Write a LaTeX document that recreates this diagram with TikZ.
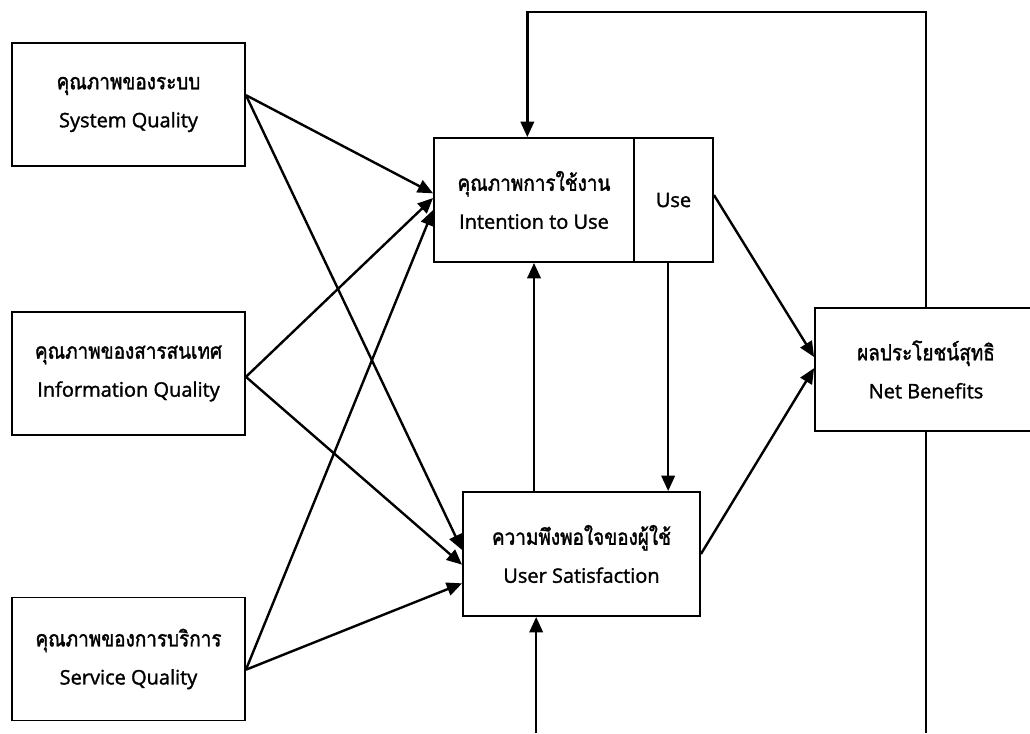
\documentclass[tikz,border=0pt]{standalone}
\usepackage{fontspec}
\setmainfont{Open Sans}[FakeBold=1.5]
\newfontfamily\thaifont[Script=Thai,FakeBold=1.5,FakeStretch=0.86]{Loma}
\newcommand\thline[1]{{\thaifont\fontsize{16.5}{28.5}\selectfont #1}}
\usetikzlibrary{arrows.meta}

\begin{document}
\begin{tikzpicture}[x=0.75pt, y=-0.75pt,
  box/.style={draw, line width=1.4pt, align=center, inner sep=0pt, font=\fontsize{15}{28.5}\selectfont},
  link/.style={line width=1.8pt, -{Triangle[length=11.5pt,width=10pt]}},
  wire/.style={line width=1.8pt}]
\clip (0,0) rectangle (1030,733);
\coordinate (fb) at (0,12);
\coordinate (bot) at (0,733);

\node [box, minimum width=174.75pt, minimum height=92.25pt] (sysq) at (128.5,104.5) {\thline{คุณภาพของระบบ}\\System Quality};
\node [box, minimum width=174.75pt, minimum height=92.25pt] (infoq) at (128.5,373.5) {\thline{คุณภาพของสารสนเทศ}\\Information Quality};
\node [box, minimum width=174.75pt, minimum height=92.25pt] (servq) at (128.5,659) {\thline{คุณภาพของการบริการ}\\Service Quality};
\node [box, minimum width=150pt, minimum height=93pt] (intent) at (534,200) {\thline{คุณภาพการใช้งาน}\\Intention to Use};
\node [box, minimum width=59.25pt, minimum height=93pt] (use) at (673.5,200) {Use};
\node [box, minimum width=177.75pt, minimum height=93pt] (usat) at (581.5,554) {\thline{ความพึงพอใจของผู้ใช้}\\User Satisfaction};
\node [box, minimum width=166.5pt, minimum height=92.25pt] (netb) at (926,369.5) {\thline{ผลประโยชน์สุทธิ}\\Net Benefits};

\draw [link] ([yshift=7pt]sysq.east) -- ([yshift=5pt]intent.west);
\draw [link] ([yshift=7pt]sysq.east) -- ([yshift=3pt]usat.west);
\draw [link] ([yshift=-2.5pt]infoq.east) -- ([yshift=1.5pt]intent.west);
\draw [link] ([yshift=-2.5pt]infoq.east) -- ([yshift=-8pt]usat.west);
\draw [link] ([yshift=-8pt]servq.east) -- ([yshift=-7.5pt]intent.west);
\draw [link] ([yshift=-8pt]servq.east) -- ([yshift=-22pt]usat.west);

\draw [link] (usat.north -| intent.south) -- (intent.south);
\draw [link] ([xshift=-4pt]use.south) -- ([xshift=-4pt]use.south |- usat.north);
\draw [link] ([yshift=3.75pt]use.east) -- ([yshift=9.4pt]netb.west);
\draw [link] (usat.east) -- ([yshift=1pt]netb.west);

\draw [link] (netb.north) -- (netb.north |- fb) -| ([xshift=-5pt]intent.north);
\draw [wire] (netb.south) -- (netb.south |- bot);
\draw [link] ([xshift=-34pt]usat.south |- bot) -- ([xshift=-34pt]usat.south);
\end{tikzpicture}
\end{document}
